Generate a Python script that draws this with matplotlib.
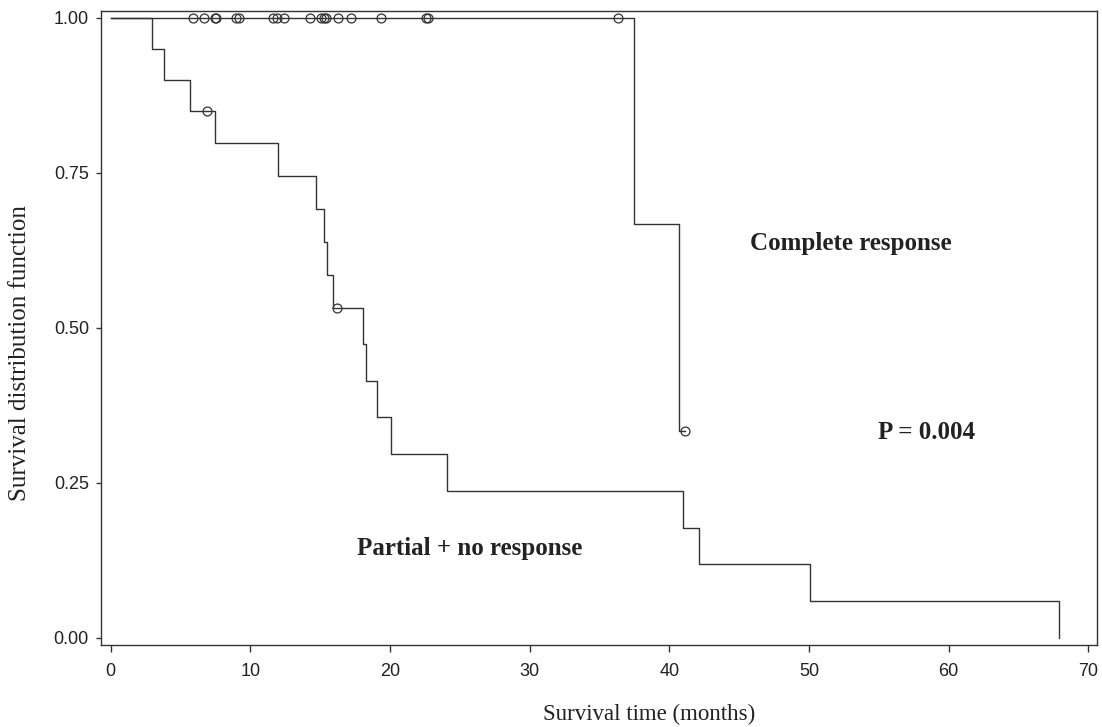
import matplotlib
matplotlib.use("Agg")
import matplotlib.pyplot as plt
import numpy as np

# Kaplan-Meier steps, partial + no response group
pr_times = [0, 3.0, 3.8, 5.7, 7.5, 12.0, 14.7, 15.3, 15.5, 15.9,
            18.1, 18.3, 19.1, 20.1, 24.1, 41.0, 42.1, 50.1, 67.9]
pr_surv = [1.0, 0.95, 0.90, 0.85, 0.797, 0.744, 0.691, 0.638, 0.585, 0.532,
           0.473, 0.414, 0.355, 0.296, 0.237, 0.177, 0.118, 0.059, 0.0]
pr_censor = [6.9, 16.2]

# complete response group
cr_times = [0, 37.5, 40.7, 41.1]
cr_surv = [1.0, 0.667, 0.333, 0.333]
cr_censor = [5.9, 6.7, 7.5, 7.55, 9.0, 9.2, 11.6, 11.9, 12.4, 14.3,
             15.1, 15.3, 15.4, 16.3, 17.2, 19.4, 22.6, 22.7, 36.3, 41.1]

xticks = [0, 10, 20, 30, 40, 50, 60, 70]
yticks = [0.0, 0.25, 0.5, 0.75, 1.0]

line_col = "#333333"
serif = ["Liberation Serif", "DejaVu Serif"]
sans = ["Liberation Sans", "DejaVu Sans"]


def surv_at(times, surv, t):
    i = np.searchsorted(times, t, side="right") - 1
    return np.asarray(surv)[i]


fig = plt.figure(figsize=(11.02, 7.27), dpi=100)
ax = fig.add_axes([0.0914, 0.1128, 0.9043, 0.8725])

for times, surv, cens in [(pr_times, pr_surv, pr_censor),
                          (cr_times, cr_surv, cr_censor)]:
    ax.step(times, surv, where="post", color=line_col, lw=1.0)
    ax.plot(cens, surv_at(times, surv, cens), "o", ms=6.4, mfc="none",
            mec=line_col, mew=0.9)

ax.set_xlim(-0.7, 70.64)
ax.set_ylim(-0.012, 1.011)
ax.set_xticks(xticks)
ax.set_xticklabels([str(v) for v in xticks], family=sans, fontsize=13)
ax.set_yticks(yticks)
ax.set_yticklabels(["%.2f" % v for v in yticks], family=sans, fontsize=13)
ax.tick_params(axis="x", length=5, width=1.0, pad=8, colors=line_col,
               labelcolor="#222222")
ax.tick_params(axis="y", length=3.5, width=1.0, pad=5, colors=line_col,
               labelcolor="#222222")
for sp in ax.spines.values():
    sp.set_color(line_col)
    sp.set_linewidth(1.0)

ax.set_xlabel("Survival time (months)", family=serif, fontsize=16.5,
              color="#222222")
ax.xaxis.set_label_coords(0.55, -0.093)
ax.set_ylabel("Survival distribution function", family=serif, fontsize=18,
              color="#222222", va="center")
ax.yaxis.set_label_coords(-0.081, 0.46)

ax.text(53.0, 0.636, "Complete response", family=serif, fontsize=18,
        fontweight="bold", ha="center", va="center", color="#222222")
ax.text(58.4, 0.331, "P = 0.004", family=serif, fontsize=18,
        fontweight="bold", ha="center", va="center", color="#222222")
ax.text(25.7, 0.143, "Partial + no response", family=serif, fontsize=18,
        fontweight="bold", ha="center", va="center", color="#222222")

fig.savefig("out.png", dpi=100)
